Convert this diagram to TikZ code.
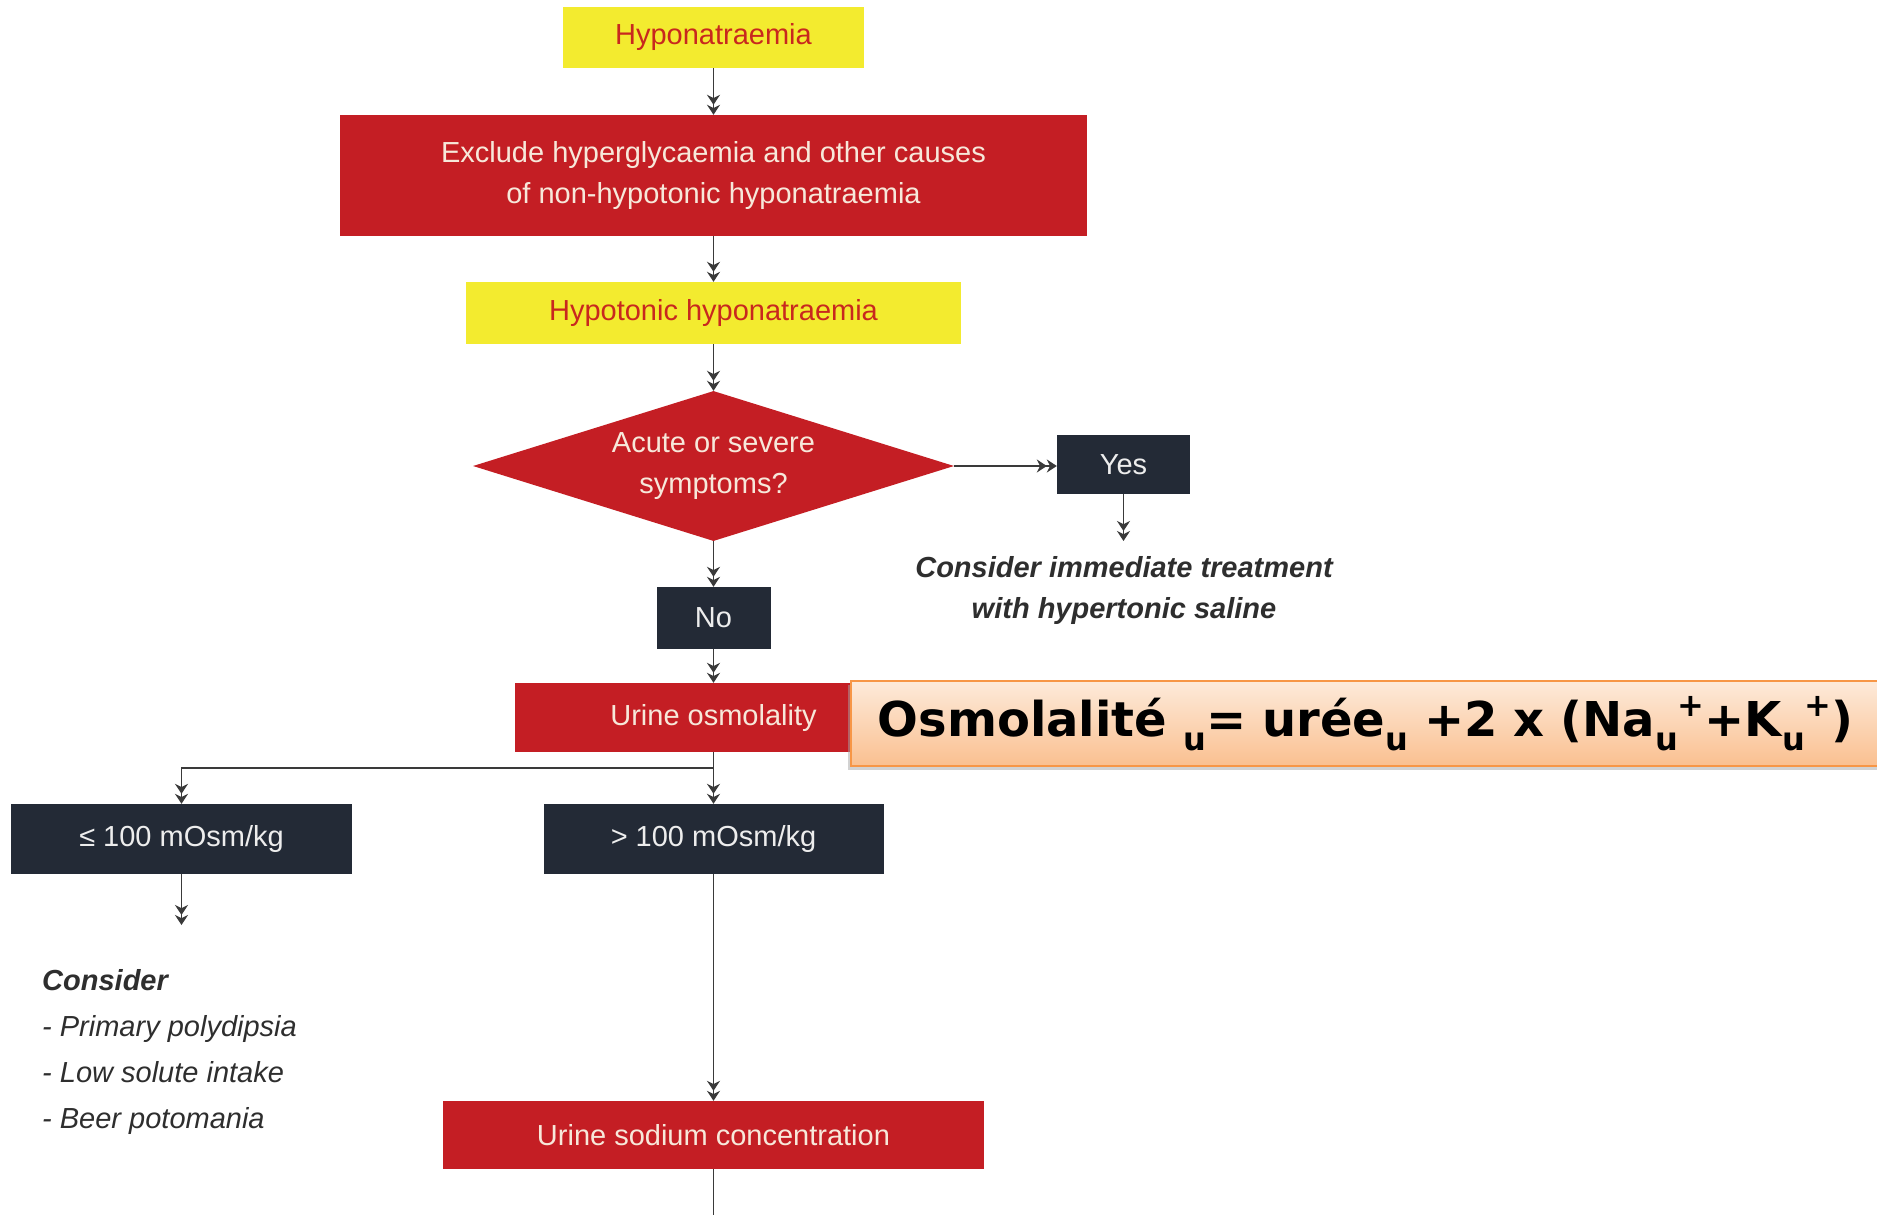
\documentclass[tikz,border=0pt]{standalone}
\usepackage{fontspec}
\setmainfont{Liberation Sans}
\newfontfamily\formfont{DejaVu Sans}
\usetikzlibrary{arrows.meta,shapes.geometric,shadows}
\definecolor{ybox}{HTML}{F3EB2F}
\definecolor{ytext}{HTML}{C8281E}
\definecolor{rbox}{HTML}{C41E24}
\definecolor{rtext}{HTML}{F7E8DA}
\definecolor{dbox}{HTML}{232A36}
\definecolor{dtext}{HTML}{EDEDED}
\definecolor{lcol}{HTML}{3A3A3A}
\definecolor{otop}{HTML}{FDEADA}
\definecolor{obot}{HTML}{FAC090}
\definecolor{oline}{HTML}{F79646}
\definecolor{gtext}{HTML}{2E2E2E}
\newcommand\fsub[1]{\raisebox{-0.3em}{\fontsize{32}{32}\selectfont #1}}
\newcommand\fsupp[1]{\raisebox{0.42em}{\fontsize{32}{32}\selectfont #1}}
\begin{document}
\begin{tikzpicture}[x=1pt,y=-1pt,
  base/.style={inner sep=0pt, font=\fontsize{29}{36}\selectfont, align=center},
  ynode/.style={base, fill=ybox, text=ytext},
  rnode/.style={base, fill=rbox, text=rtext},
  dnode/.style={base, fill=dbox, text=dtext},
  conn/.style={draw=lcol, line width=1.8pt, -{Stealth[length=10pt,width=13pt]Stealth[length=10pt,width=13pt]}},
  plain/.style={draw=lcol, line width=1.8pt},
  note/.style={inner sep=0pt, text=gtext, font=\fontsize{29}{46}\selectfont\itshape}]
\useasboundingbox (0,0) rectangle (1877,1215);
\fill[white] (0,0) rectangle (1877,1215);

\node[ynode, minimum width=301pt, minimum height=61pt] (hyp) at (713.5,37.5) {Hyponatraemia};
\node[rnode, minimum width=747pt, minimum height=121pt, font=\fontsize{29}{41}\selectfont] (excl) at (713.5,175.5) {Exclude hyperglycaemia and other causes\\of non-hypotonic hyponatraemia};
\node[ynode, minimum width=495pt, minimum height=62pt] (hypo) at (713.5,313) {Hypotonic hyponatraemia};
\node[rnode, diamond, aspect=3.2, minimum width=481pt, minimum height=150pt, font=\fontsize{29}{41}\selectfont] (dia) at (713.5,466) {Acute or severe\\symptoms?};
\node[dnode, minimum width=133pt, minimum height=59pt] (yes) at (1123.5,464.5) {Yes};
\node[note, align=center, font=\fontsize{29}{41}\selectfont\bfseries\itshape, anchor=north] (imm) at (1124,556) {Consider immediate treatment\\with hypertonic saline};
\node[dnode, minimum width=114pt, minimum height=62pt] (no) at (713.5,618) {No};
\node[rnode, minimum width=397pt, minimum height=69pt] (osm) at (713.5,717.5) {Urine osmolality};
\node[anchor=west, minimum height=85pt, text width=990pt, inner xsep=27pt, inner ysep=0pt, align=left,
  shade, top color=otop, bottom color=obot, draw=oline, line width=1.5pt,
  drop shadow={shadow xshift=-3pt, shadow yshift=-4pt, fill=gray!70},
  font=\formfont\bfseries\fontsize{48}{52}\selectfont, text=black] (form) at (850,723.5)
  {\mbox{Osmolalité \fsub{u}= urée\fsub{u} +2 x (Na\fsub{u}\fsupp{+}+K\fsub{u}\fsupp{+})}};
\node[dnode, minimum width=341pt, minimum height=70pt] (le) at (181.5,839) {≤ 100 mOsm/kg};
\node[dnode, minimum width=340pt, minimum height=70pt] (gt) at (713.5,839) {> 100 mOsm/kg};
\node[note, anchor=north west, align=left] (cons) at (42,969) {\textbf{Consider}\\- Primary polydipsia\\- Low solute intake\\- Beer potomania};
\node[rnode, minimum width=541pt, minimum height=68pt] (na) at (713.5,1135) {Urine sodium concentration};

\coordinate (immtip) at (1123.5,541);
\coordinate (br) at (713.5,768);
\coordinate (lefree) at (181.5,925);
\coordinate (bot) at (713.5,1215);

\draw[conn] (hyp) -- (excl);
\draw[conn] (excl) -- (hypo);
\draw[conn] (hypo) -- (dia);
\draw[conn] (dia.east) -- (dia.east -| yes.west);
\draw[conn] (yes) -- (immtip);
\draw[conn] (dia) -- (no);
\draw[conn] (no) -- (osm);
\draw[conn] (osm) -- (gt);
\draw[conn] (br) -| (le.north);
\draw[conn] (le) -- (lefree);
\draw[conn] (gt) -- (na);
\draw[plain] (na) -- (bot);
\end{tikzpicture}
\end{document}
